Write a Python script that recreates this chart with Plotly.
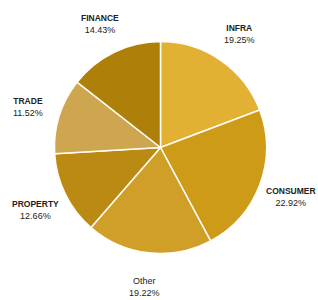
import math
import plotly.graph_objects as go

categories = ["INFRA", "CONSUMER", "Other", "PROPERTY", "TRADE", "FINANCE"]
values = [19.25, 22.92, 19.22, 12.66, 11.52, 14.43]
colors = ["#E2B033", "#CD9B18", "#D09F28", "#BA8A13", "#CEA650", "#AE8009"]
bold_labels = [True, True, False, True, True, True]

W, H = 318, 300
cx, cy, R = 160.5, 152.5, 106  # cy measured from bottom
label_r = 139

fig = go.Figure(go.Pie(
    labels=categories,
    values=values,
    sort=False,
    direction="clockwise",
    rotation=0,
    marker=dict(colors=colors, line=dict(color="#FFFDF5", width=1.5)),
    textinfo="none",
    hoverinfo="label+percent",
    domain=dict(x=[(cx - R) / W, (cx + R) / W], y=[(cy - R) / H, (cy + R) / H]),
    showlegend=False,
))

total = sum(values)
cum = 0
annotations = []
for cat, v, b in zip(categories, values, bold_labels):
    mid = (cum + v / 2) / total * 2 * math.pi
    cum += v
    x = cx + label_r * math.sin(mid)
    y = cy + label_r * math.cos(mid) - 1
    name = f"<span style='font-size:8.5px'><b>{cat}</b></span>" if b else cat
    annotations.append(dict(
        x=x / W, y=y / H, xref="paper", yref="paper",
        text=f"{name}<br>{v / total * 100:.2f}%",
        showarrow=False, xanchor="center", yanchor="middle",
        font=dict(family="Liberation Sans, Arial, sans-serif", size=9, color="#222222"),
    ))

fig.update_layout(
    width=W, height=H,
    margin=dict(l=0, r=0, t=0, b=0),
    paper_bgcolor="white",
    plot_bgcolor="white",
    annotations=annotations,
)

fig.write_html(
    "out.html",
    config={"displayModeBar": False},
    post_script="document.body.style.margin='0';document.body.style.padding='0';",
)
